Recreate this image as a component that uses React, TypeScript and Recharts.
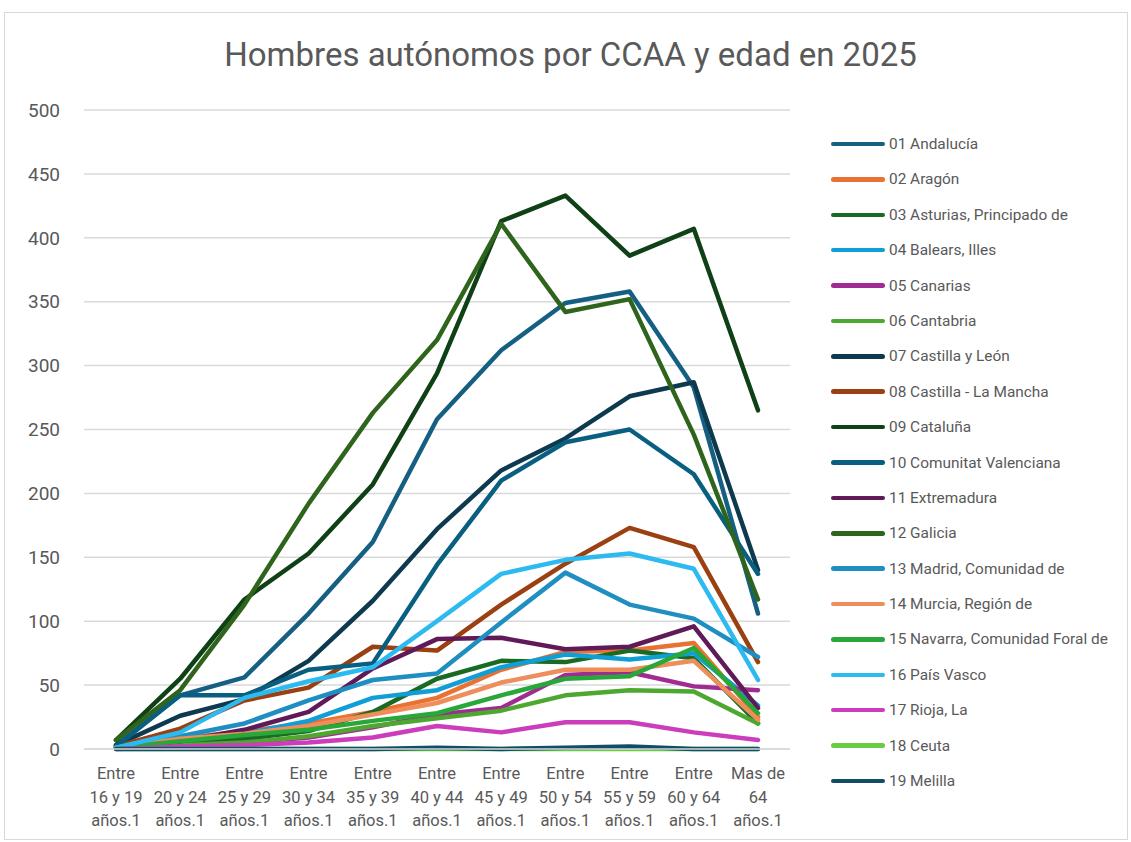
import React from 'react';
import { LineChart, Line, XAxis, YAxis, CartesianGrid } from 'recharts';

const categories = [
  'Entre 16 y 19 años.1',
  'Entre 20 y 24 años.1',
  'Entre 25 y 29 años.1',
  'Entre 30 y 34 años.1',
  'Entre 35 y 39 años.1',
  'Entre 40 y 44 años.1',
  'Entre 45 y 49 años.1',
  'Entre 50 y 54 años.1',
  'Entre 55 y 59 años.1',
  'Entre 60 y 64 años.1',
  'Mas de 64 años.1',
];

const tickLabels = [
  ['Entre', '16 y 19', 'años.1'],
  ['Entre', '20 y 24', 'años.1'],
  ['Entre', '25 y 29', 'años.1'],
  ['Entre', '30 y 34', 'años.1'],
  ['Entre', '35 y 39', 'años.1'],
  ['Entre', '40 y 44', 'años.1'],
  ['Entre', '45 y 49', 'años.1'],
  ['Entre', '50 y 54', 'años.1'],
  ['Entre', '55 y 59', 'años.1'],
  ['Entre', '60 y 64', 'años.1'],
  ['Mas de', '64', 'años.1'],
];

const yTicks = [0, 50, 100, 150, 200, 250, 300, 350, 400, 450, 500];

const andalucia = [3, 42, 56, 106, 162, 258, 312, 349, 358, 283, 106];
const aragon = [1, 8, 14, 20, 29, 40, 62, 76, 77, 83, 25];
const asturias = [1, 4, 8, 14, 29, 55, 69, 68, 77, 71, 20];
const balears = [1, 9, 12, 22, 40, 46, 64, 74, 70, 75, 34];
const canarias = [1, 3, 5, 9, 17, 27, 32, 58, 60, 49, 46];
const cantabria = [1, 3, 5, 10, 18, 24, 30, 42, 46, 45, 20];
const castillaLeon = [3, 26, 39, 69, 116, 172, 218, 243, 276, 287, 140];
const castillaMancha = [2, 16, 38, 48, 80, 77, 113, 145, 173, 158, 68];
const cataluna = [7, 55, 117, 153, 207, 294, 413, 433, 386, 407, 265];
const valenciana = [2, 42, 42, 62, 67, 144, 210, 240, 250, 215, 137];
const extremadura = [1, 6, 15, 29, 63, 86, 87, 78, 80, 96, 32];
const galicia = [7, 46, 113, 192, 263, 320, 411, 342, 352, 246, 117];
const madrid = [1, 10, 20, 38, 54, 59, 99, 138, 113, 102, 72];
const murcia = [1, 8, 12, 18, 27, 36, 52, 62, 62, 69, 23];
const navarra = [1, 6, 11, 15, 22, 28, 42, 55, 57, 79, 28];
const paisVasco = [1, 13, 40, 53, 64, 100, 137, 148, 153, 141, 54];
const rioja = [0, 2, 3, 5, 9, 18, 13, 21, 21, 13, 7];
const ceuta = [0, 0, 0, 0, 0, 0, 0, 0, 0, 0, 0];
const melilla = [0, 0, 0, 0, 0, 1, 0, 1, 2, 0, 0];

const seriesNames = [
  '01 Andalucía',
  '02 Aragón',
  '03 Asturias, Principado de',
  '04 Balears, Illes',
  '05 Canarias',
  '06 Cantabria',
  '07 Castilla y León',
  '08 Castilla - La Mancha',
  '09 Cataluña',
  '10 Comunitat Valenciana',
  '11 Extremadura',
  '12 Galicia',
  '13 Madrid, Comunidad de',
  '14 Murcia, Región de',
  '15 Navarra, Comunidad Foral de',
  '16 País Vasco',
  '17 Rioja, La',
  '18 Ceuta',
  '19 Melilla',
];

const seriesValues = [
  andalucia, aragon, asturias, balears, canarias, cantabria, castillaLeon,
  castillaMancha, cataluna, valenciana, extremadura, galicia, madrid, murcia,
  navarra, paisVasco, rioja, ceuta, melilla,
];

const colors = [
  '#156082', '#E97132', '#196B24', '#0F9ED5', '#A02B93', '#4EA72E',
  '#0D3A4E', '#9A4011', '#0F4016', '#095F80', '#601A58', '#2F641C',
  '#1F8EC0', '#EE8E5B', '#27A838', '#2CBAF0', '#CB3DBB', '#68CC45',
  '#114D68',
];

const data = categories.map((c, i) => {
  const row: Record<string, any> = { cat: c, idx: i };
  seriesValues.forEach((vals, s) => {
    row['s' + s] = vals[i];
  });
  return row;
});

const FONT = 'Roboto, "Noto Sans", sans-serif';
const TEXT = '#595959';

const XTick = (props: any) => {
  const { x, y, index } = props;
  const lines = tickLabels[index] || [];
  return (
    <text x={x} y={y} textAnchor="middle" fill={TEXT} fontSize={16.5} fontFamily={FONT}>
      {lines.map((l, i) => (
        <tspan key={i} x={x} dy={i === 0 ? 30 : 23.5}>
          {l}
        </tspan>
      ))}
    </text>
  );
};

export default function App() {
  return (
    <div style={{ position: 'absolute', left: 0, top: 0, width: 1131, height: 842, background: '#fff', fontFamily: FONT }}>
      <div
        style={{
          position: 'absolute',
          left: 4,
          top: 12,
          width: 1124,
          height: 828,
          border: '1px solid #d9d9d9',
          boxSizing: 'border-box',
        }}
      />
      <div
        style={{
          position: 'absolute',
          left: 0,
          width: 1131,
          top: 34,
          textAlign: 'center',
          fontSize: 33,
          color: TEXT,
          lineHeight: '42px',
          paddingLeft: 5,
        }}
      >
        Hombres autónomos por CCAA y edad en 2025
      </div>
      <div style={{ position: 'absolute', left: 0, top: 0 }}>
        <LineChart
          width={1131}
          height={842}
          data={data}
          margin={{ top: 110, right: 341, bottom: 0, left: 0 }}
        >
          <CartesianGrid horizontal vertical={false} stroke="#d9d9d9" strokeWidth={1.5} />
          <XAxis
            dataKey="cat"
            interval={0}
            height={93}
            padding={{ left: 32, right: 32 }}
            tickLine={false}
            tickSize={0}
            tickMargin={0}
            axisLine={{ stroke: '#d9d9d9', strokeWidth: 1.5 }}
            tick={<XTick />}
          />
          <YAxis
            domain={[0, 500]}
            ticks={yTicks}
            width={84}
            axisLine={false}
            tickLine={false}
            tickSize={0}
            tickMargin={24}
            tick={{ fill: TEXT, fontSize: 19, fontFamily: FONT }}
          />
          {seriesNames.map((name, s) => (
            <Line
              key={name}
              type="linear"
              dataKey={'s' + s}
              name={name}
              stroke={colors[s]}
              strokeWidth={4.5}
              strokeLinecap="round"
              strokeLinejoin="round"
              dot={false}
              activeDot={false}
              isAnimationActive={false}
            />
          ))}
        </LineChart>
      </div>
      <div style={{ position: 'absolute', left: 831, top: 144 - 17.7 }}>
        {seriesNames.map((name, s) => (
          <div key={name} style={{ height: 35.4, display: 'flex', alignItems: 'center' }}>
            <span
              style={{
                display: 'inline-block',
                width: 54,
                height: 4.5,
                borderRadius: 3,
                background: colors[s],
                marginRight: 4,
              }}
            />
            <span style={{ fontSize: 15.4, color: TEXT, whiteSpace: 'nowrap' }}>{name}</span>
          </div>
        ))}
      </div>
    </div>
  );
}
